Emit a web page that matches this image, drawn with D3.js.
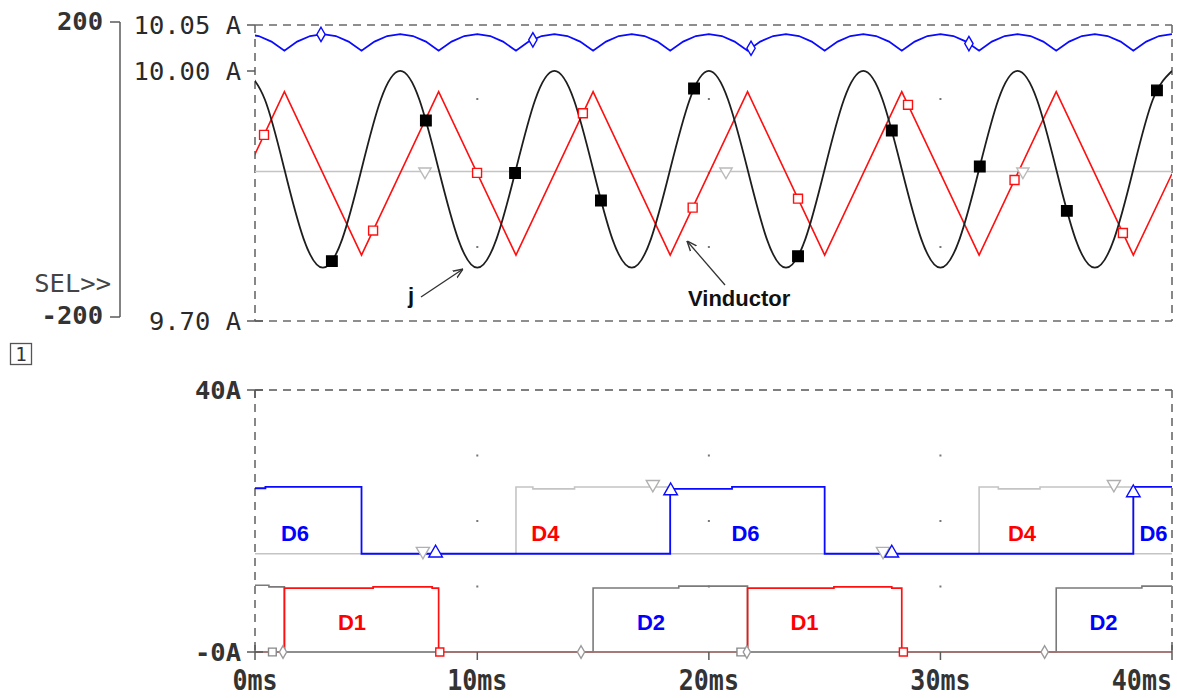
<!DOCTYPE html>
<html><head><meta charset="utf-8">
<script src="https://cdn.jsdelivr.net/npm/d3@7"></script>
<style>body{margin:0;background:#fff}svg{display:block}</style>
</head><body>
<svg id="c" width="1177" height="698"></svg>
<script>
// ---------------- DATA ----------------
// top plot: j (black, left axis), Vinductor (red, left axis), gray reference, blue current (A axis)
const jTime = [0,0.83,1.67,2.5,3.33,4.17,5,5.83,6.67,7.5,8.33,9.17,10,10.83,11.67,12.5,13.33,14.17,15,15.83,16.67,17.5,18.33,19.17,20,20.83,21.67,22.5,23.33,24.17,25,25.83,26.67,27.5,28.33,29.17,30,30.83,31.67,32.5,33.33,34.17,35,35.83,36.67,37.5,38.33,39.17,40];
const jValue = [138,99,5,-89,-128,-89,5,99,138,99,5,-89,-128,-89,5,99,138,99,5,-89,-128,-89,5,99,138,99,5,-89,-128,-89,5,99,138,99,5,-89,-128,-89,5,99,138,99,5,-89,-128,-89,5,99,138];
const vindTime = [0,1.67,5,8.33,11.67,15,18.33,21.67,25,28.33,31.67,35,38.33,40];
const vindValue = [-1,110,-111,110,-111,110,-111,110,-111,110,-111,110,-111,-1];
const refTime = [0,40];
const refValue = [2,2];
const iTime = [0,0.56,1.11,1.67,2.22,2.78,3.33,3.89,4.44,5,5.56,6.11,6.67,7.22,7.78,8.33,8.89,9.44,10,10.56,11.11,11.67,12.22,12.78,13.33,13.89,14.44,15,15.56,16.11,16.67,17.22,17.78,18.33,18.89,19.44,20,20.56,21.11,21.67,22.22,22.78,23.33,23.89,24.44,25,25.56,26.11,26.67,27.22,27.78,28.33,28.89,29.44,30,30.56,31.11,31.67,32.22,32.78,33.33,33.89,34.44,35,35.56,36.11,36.67,37.22,37.78,38.33,38.89,39.44,40];
const iValue = [10.040,10.038,10.032,10.022,10.032,10.038,10.040,10.038,10.032,10.022,10.032,10.038,10.040,10.038,10.032,10.022,10.032,10.038,10.040,10.038,10.032,10.022,10.032,10.038,10.040,10.038,10.032,10.022,10.032,10.038,10.040,10.038,10.032,10.022,10.032,10.038,10.040,10.038,10.032,10.022,10.032,10.038,10.040,10.038,10.032,10.022,10.032,10.038,10.040,10.038,10.032,10.022,10.032,10.038,10.040,10.038,10.032,10.022,10.032,10.038,10.040,10.038,10.032,10.022,10.032,10.038,10.040,10.038,10.032,10.022,10.032,10.038,10.040];
// marker times along the top traces
const jMarkTime = [3.72,7.78,11.63,15.34,19.36,23.85,27.9,31.7,35.46,39.35];
const vindMarkTime = [0.79,5.5,9.99,14.56,19.3,23.85,28.6,33.2,37.88];
const iMarkTime = [3.25,12.4,21.82,31.23];
const refMarkTime = [7.74,20.74,33.56];

// bottom plot: diode currents (step traces)
const d6Time = [0,0.85,5,18.33,21.0,25,38.33,40];
const d6Value = [25.0,25.2,15.0,24.9,25.2,15.0,25.2,25.2];
const d4Time = [0,11.67,12.4,14.2,18.33,31.67,32.5,34.3,38.33,40];
const d4Value = [15.0,25.2,24.9,25.2,15.0,25.2,24.9,25.2,15.0,15.0];
const d1Time = [0,1.67,5.5,8.05,8.33,21.67,25.4,27.9,28.33,40];
const d1Value = [0,9.75,9.95,9.75,0,9.75,9.95,9.75,0,0];
const d2Time = [0,1.0,1.67,15.0,18.7,21.67,35.0,38.7,40];
const d2Value = [10.2,9.95,0,9.78,10.05,0,9.78,10.05,10.05];
const d6MarkTime = [8.2,18.35,27.9,38.33];
const d6MarkValue = [15.1,24.6,15.1,24.3];
const d4MarkTime = [7.65,17.58,27.52,37.49];
const d4MarkValue = [15.4,25.6,15.4,25.6];
const d1MarkTime = [8.38,28.4];
const d1MarkValue = [0,0];
const d0MarkTime = [1.15,21.38];
const d0MarkValue = [0,0];
const d2MarkTime = [1.61,14.48,21.64,34.5];
const d2MarkValue = [0,0,0,0];

// axes / labels
const xTickValues = [0.4,10,20,30,40];
const xTickLabels = ["0ms","10ms","20ms","30ms","40ms"];
const topATicks = [10.05,10.00,9.70];
const topATickLabels = ["10.05 A","10.00 A","9.70 A"];
const leftTicks = [200,-200];
const bottomTicks = [40,0];
const bottomTickLabels = ["40A","-0A"];
const topGridValues = [100,0,-100];
const bottomGridValues = [10,20,30];
const gridTimes = [10,20,30];
const diodeLabels = [
  {t:2.13,v:18.2,text:"D6",c:"#0000ff"},
  {t:12.94,v:18.2,text:"D4",c:"#ff0000"},
  {t:21.58,v:18.2,text:"D6",c:"#0000ff"},
  {t:33.52,v:18.2,text:"D4",c:"#ff0000"},
  {t:39.2,v:18.2,text:"D6",c:"#0000ff"},
  {t:4.59,v:4.6,text:"D1",c:"#ff0000"},
  {t:17.5,v:4.6,text:"D2",c:"#0000ff"},
  {t:24.13,v:4.6,text:"D1",c:"#ff0000"},
  {t:37.04,v:4.6,text:"D2",c:"#0000ff"}
];

// ---------------- DRAW ----------------
const svg = d3.select("#c");
const X0 = 255, X1 = 1172;
const x = d3.scaleLinear().domain([0.4,40]).range([X0,X1]);
const T0 = 25, T1 = 321;
const yL = d3.scaleLinear().domain([-200,200]).range([T1,T0]);
const yA = d3.scaleLinear().domain([9.70,10.00,10.05]).range([T1,71,T0]);
const B0 = 390, B1 = 652;
const yB = d3.scaleLinear().domain([0,40]).range([B1,B0]);

const BLUE="#0a0aff", RED="#ff1010", BLACK="#1e1e1e", LGRAY="#c4c4c4", DGRAY="#7a7a7a", AX="#5a5a5a";
const mono = "'DejaVu Sans Mono', monospace";
const sans = "'Liberation Sans', Arial, sans-serif";

const defs = svg.append("defs");
defs.append("clipPath").attr("id","clipTop").append("rect").attr("x",X0).attr("y",T0-4).attr("width",X1-X0).attr("height",T1-T0+8);
defs.append("clipPath").attr("id","clipBot").append("rect").attr("x",X0).attr("y",B0-4).attr("width",X1-X0+1).attr("height",B1-B0+8);
defs.append("marker").attr("id","arr").attr("viewBox","0 0 10 10").attr("refX",10).attr("refY",5)
  .attr("markerWidth",10).attr("markerHeight",10).attr("orient","auto").attr("markerUnits","userSpaceOnUse")
  .append("path").attr("d","M0,1 L10,5 L0,9").attr("fill","none").attr("stroke","#333").attr("stroke-width",1.4);

// grid dots
const dots = svg.append("g").attr("fill","#777");
gridTimes.forEach(t=>{
  topGridValues.forEach(v=>dots.append("rect").attr("x",x(t)-1).attr("y",yL(v)-1).attr("width",2).attr("height",2));
  bottomGridValues.forEach(v=>dots.append("rect").attr("x",x(t)-1).attr("y",yB(v)-1).attr("width",2).attr("height",2));
});

// frames
const dash = {stroke:"#6a6a6a","stroke-width":1.6,"stroke-dasharray":"8,6",fill:"none"};
function dline(x1,y1,x2,y2){const l=svg.append("line").attr("x1",x1).attr("y1",y1).attr("x2",x2).attr("y2",y2);Object.entries(dash).forEach(([k,v])=>l.attr(k,v));return l;}
dline(X0,T0,X1,T0); dline(X0,T1,X1,T1); dline(X0,T0,X0,T1); dline(X1,T0,X1,T1);
dline(X0,B0,X1,B0).attr("stroke","#555"); dline(X0,B0,X0,B1); dline(X1,B0,X1,B1);

// ---- top plot traces
const gTop = svg.append("g").attr("clip-path","url(#clipTop)");
const zip = (ts,vs)=>ts.map((t,i)=>[t,vs[i]]);
const lineL = d3.line().x(d=>x(d[0])).y(d=>yL(d[1]));
const lineA = d3.line().x(d=>x(d[0])).y(d=>yA(d[1]));
const pBlue = gTop.append("path").datum(zip(iTime,iValue)).attr("d",lineA).attr("fill","none").attr("stroke",BLUE).attr("stroke-width",1.8);
const pRef = gTop.append("path").datum(zip(refTime,refValue)).attr("d",lineL).attr("fill","none").attr("stroke",LGRAY).attr("stroke-width",1.6);
const pRed = gTop.append("path").datum(zip(vindTime,vindValue)).attr("d",lineL).attr("fill","none").attr("stroke",RED).attr("stroke-width",1.6);
const pBlack = gTop.append("path").datum(zip(jTime,jValue)).attr("d",lineL.curve(d3.curveNatural)).attr("fill","none").attr("stroke",BLACK).attr("stroke-width",1.8);

function yOnPath(node, px){
  const L=node.getTotalLength(); let lo=0,hi=L;
  for(let i=0;i<40;i++){const m=(lo+hi)/2; if(node.getPointAtLength(m).x<px) lo=m; else hi=m;}
  return node.getPointAtLength((lo+hi)/2).y;
}
const sym = (type,size)=>d3.symbol().type(type).size(size)();
function markersOnPath(ts,node,type,size,fill,stroke,rot){
  ts.forEach(t=>{const px=x(t), py=yOnPath(node,px);
    svg.append("path").attr("d",sym(type,size)).attr("transform",`translate(${px},${py})${rot?` rotate(${rot})`:""}`)
      .attr("fill",fill).attr("stroke",stroke).attr("stroke-width",1.4);});
}
markersOnPath(iMarkTime,pBlue.node(),d3.symbolDiamond,60,"#fff",BLUE);
markersOnPath(refMarkTime,pRef.node(),d3.symbolTriangle,65,"#fff","#bbb",180);
markersOnPath(vindMarkTime,pRed.node(),d3.symbolSquare,80,"#fff",RED);
markersOnPath(jMarkTime,pBlack.node(),d3.symbolSquare,110,"#000","#000");

// ---- bottom plot traces
const gBot = svg.append("g").attr("clip-path","url(#clipBot)");
const stepB = d3.line().x(d=>x(d[0])).y(d=>yB(d[1])).curve(d3.curveStepAfter);
gBot.append("path").datum(zip(d2Time,d2Value)).attr("d",stepB).attr("fill","none").attr("stroke",DGRAY).attr("stroke-width",1.6);
gBot.append("path").datum(zip(d1Time,d1Value)).attr("d",stepB).attr("fill","none").attr("stroke",RED).attr("stroke-width",1.7);
gBot.append("line").attr("x1",X0).attr("x2",X1).attr("y1",yB(0)).attr("y2",yB(0)).attr("stroke","#8a8a8a").attr("stroke-width",1.6);
gBot.append("path").datum(zip(d4Time,d4Value)).attr("d",stepB).attr("fill","none").attr("stroke",LGRAY).attr("stroke-width",1.6);
gBot.append("path").datum(zip(d6Time,d6Value)).attr("d",stepB).attr("fill","none").attr("stroke",BLUE).attr("stroke-width",1.8);

function markers(ts,vs,type,size,stroke,rot){
  ts.forEach((t,i)=>svg.append("path").attr("d",sym(type,size))
    .attr("transform",`translate(${x(t)},${yB(vs[i])})${rot?` rotate(${rot})`:""}`)
    .attr("fill","#fff").attr("stroke",stroke).attr("stroke-width",1.4));
}
markers(d0MarkTime,d0MarkValue,d3.symbolSquare,60,"#888");
markers(d2MarkTime,d2MarkValue,d3.symbolDiamond,45,"#999");
markers(d1MarkTime,d1MarkValue,d3.symbolSquare,64,RED);
markers(d4MarkTime,d4MarkValue,d3.symbolTriangle,75,"#b0b0b0",180);
markers(d6MarkTime,d6MarkValue,d3.symbolTriangle,80,BLUE);

// diode labels
diodeLabels.forEach(d=>svg.append("text").attr("x",x(d.t)).attr("y",yB(d.v)+8).attr("text-anchor","middle")
  .attr("font-family",sans).attr("font-weight","bold").attr("font-size",22).attr("fill",d.c).text(d.text));

// ---- axes
const ax = svg.append("g").attr("stroke",AX).attr("stroke-width",1.5).attr("fill","none");
ax.append("line").attr("x1",120).attr("x2",120).attr("y1",yL(200)-3).attr("y2",yL(-200)-4);
leftTicks.forEach(v=>ax.append("line").attr("x1",110).attr("x2",120).attr("y1",yL(v)-(v>0?3:4)).attr("y2",yL(v)-(v>0?3:4)));
topATicks.forEach(v=>ax.append("line").attr("x1",247).attr("x2",X0).attr("y1",yA(v)).attr("y2",yA(v)));
ax.append("line").attr("x1",X0).attr("x2",263).attr("y1",T1).attr("y2",T1);
bottomTicks.forEach(v=>ax.append("line").attr("x1",247).attr("x2",263).attr("y1",yB(v)).attr("y2",yB(v)));
ax.append("line").attr("x1",X0).attr("x2",X0).attr("y1",B0).attr("y2",B0+8);
xTickValues.forEach(t=>ax.append("line").attr("x1",x(t)).attr("x2",x(t)).attr("y1",t===0.4||t===40?B1-7:B1).attr("y2",B1+8));

const txt = (xx,yy,s,anchor,weight,size,fill)=>svg.append("text").attr("x",xx).attr("y",yy).attr("text-anchor",anchor)
  .attr("font-family",mono).attr("font-weight",weight).attr("font-size",size).attr("fill",fill||"#333").text(s);
topATicks.forEach((v,i)=>txt(241,yA(v)+9,topATickLabels[i],"end","normal",25.5,"#2a2a2a"));
txt(103,30,"200","end","bold",25.5);
txt(103,324,"-200","end","bold",25.5);
txt(111,292,"SEL>>","end","normal",25.5,"#444");
bottomTicks.forEach((v,i)=>txt(241,yB(v)+9,bottomTickLabels[i],"end","bold",25.5));
xTickValues.forEach((t,i)=>{
  const last = i===xTickValues.length-1;
  svg.append("text").attr("transform",`translate(${last?X1:x(t)},690) scale(1,1.12)`)
    .attr("text-anchor",last?"end":"middle").attr("font-family",mono).attr("font-weight","bold")
    .attr("font-size",25).attr("fill","#333").text(xTickLabels[i]);
});

// plot number box
svg.append("rect").attr("x",10.5).attr("y",343.5).attr("width",21).attr("height",21).attr("fill","none").attr("stroke","#555").attr("stroke-width",1.3);
svg.append("text").attr("x",21).attr("y",361).attr("text-anchor","middle").attr("font-family",mono).attr("font-size",19).attr("fill","#333").text("1");

// annotations
svg.append("text").attr("x",408).attr("y",303).attr("font-family",sans).attr("font-weight","bold").attr("font-size",22).attr("fill","#111").text("j");
svg.append("line").attr("x1",421).attr("y1",297).attr("x2",463).attr("y2",269).attr("stroke","#333").attr("stroke-width",1.3).attr("marker-end","url(#arr)");
svg.append("text").attr("x",688).attr("y",306).attr("font-family",sans).attr("font-weight","bold").attr("font-size",22).attr("fill","#111").text("Vinductor");
svg.append("line").attr("x1",725).attr("y1",285).attr("x2",687).attr("y2",241).attr("stroke","#333").attr("stroke-width",1.3).attr("marker-end","url(#arr)");
</script>
</body></html>
